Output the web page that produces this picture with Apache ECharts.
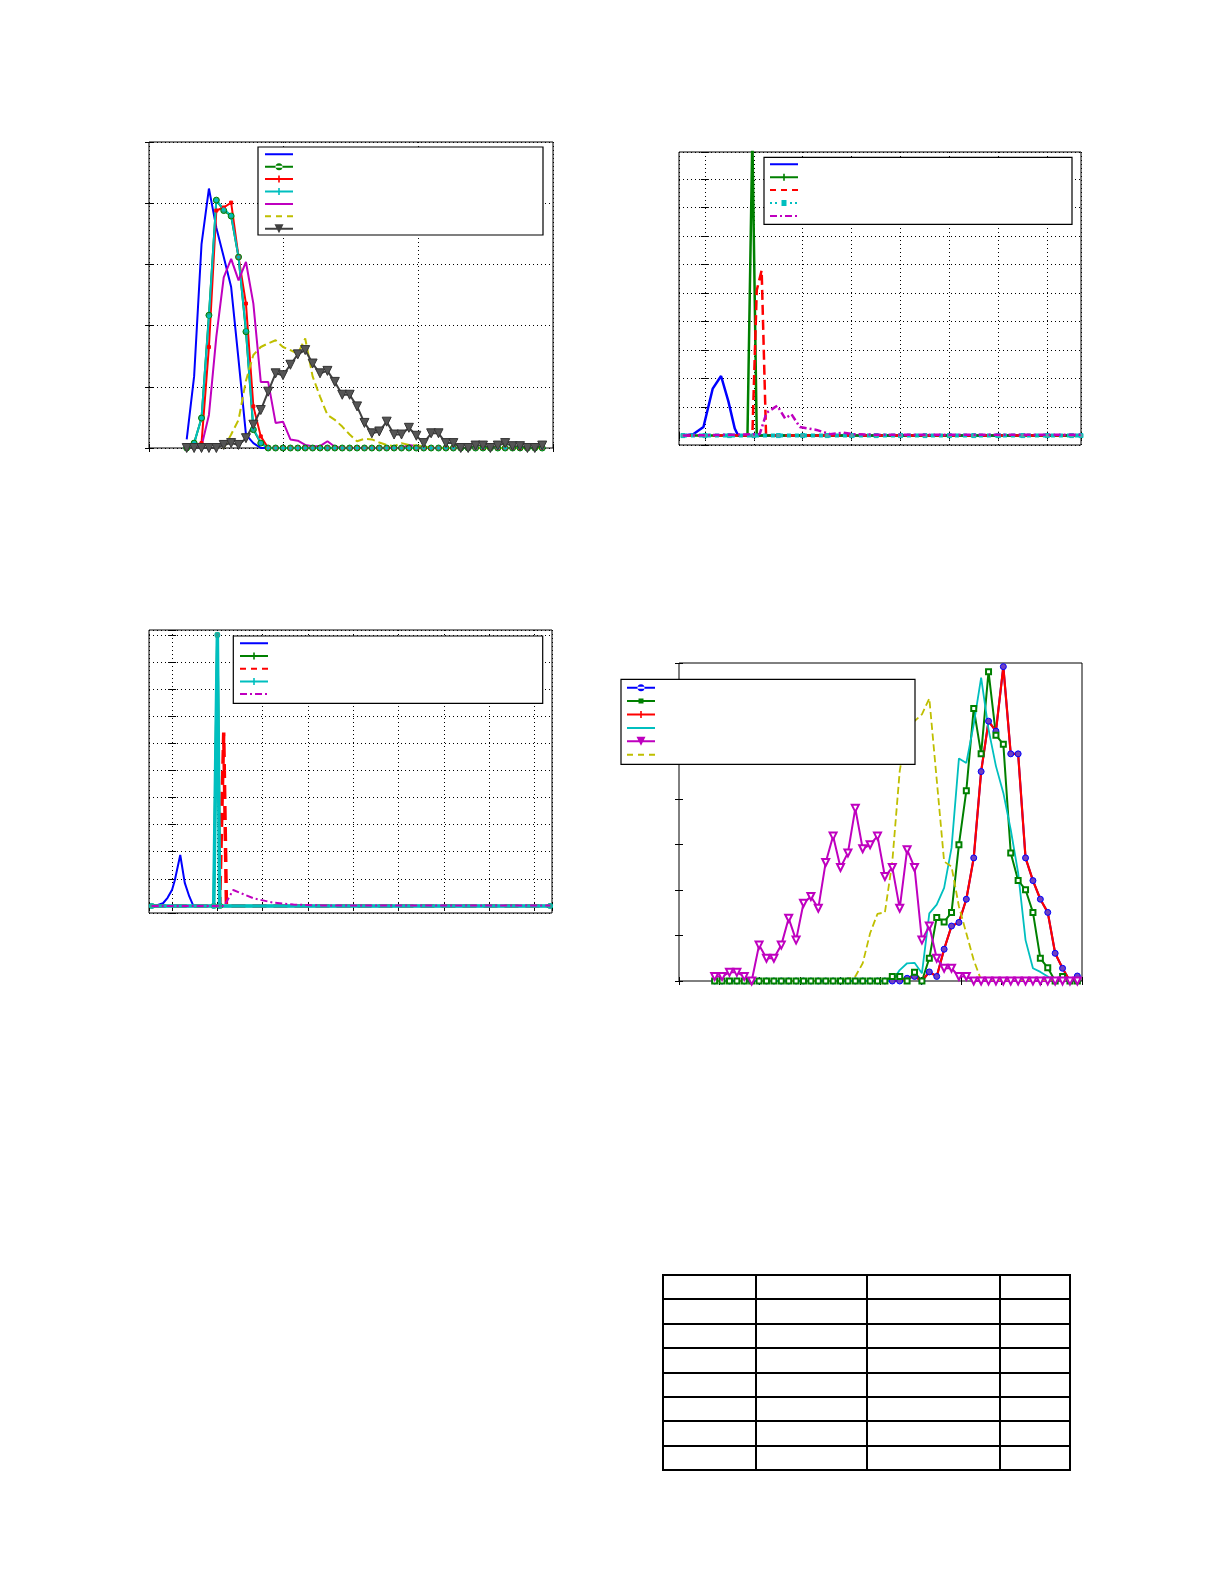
<!DOCTYPE html>
<html><head><meta charset="utf-8">
<script src="https://cdn.jsdelivr.net/npm/echarts@6/dist/echarts.min.js"></script>
<style>
html,body{margin:0;padding:0;background:#fff;}
#c{position:absolute;left:0;top:0;width:1225px;height:1585px;}
table{position:absolute;left:662px;top:1274px;border-collapse:collapse;}
td{border:2px solid #000;height:22.4px;padding:0;}
</style></head><body>
<div id="c"></div>
<table id="t"></table>
<script>
// ---------- Chart 1 (top-left) ----------
const c1Start = 0.28, c1Step = 0.055, c1Count = 49;
const c1Blue    = [0.14,1.17,3.33,4.24,3.6,3.12,2.63,1.44,0.22,0.08,0, 0,0,0,0,0,0,0,0,0,0,0,0,0,0,0,0,0,0,0,0,0,0,0,0,0,0,0,0,0,0,0,0,0,0,0,0,0,0];
const c1Green   = [0,0.08,0.49,2.17,4.05,3.88,3.79,3.12,1.9,0.3,0.08, 0,0,0,0,0,0,0,0,0,0,0,0,0,0,0,0,0,0,0,0,0,0,0,0,0,0,0,0,0,0,0,0,0,0,0,0,0,0];
const c1Red     = [0,0.05,0.08,1.65,3.88,3.93,4.01,3.12,2.36,0.68,0.19, 0,0,0,0,0,0,0,0,0,0,0,0,0,0,0,0,0,0,0,0,0,0,0,0,0,0,0,0,0,0,0,0,0,0,0,0,0,0];
const c1Cyan    = [0,0.08,0.49,2.15,4.05,3.9,3.8,3.12,1.92,0.32,0.08, 0,0,0,0,0,0,0,0,0,0,0,0,0,0,0,0,0,0,0,0,0,0,0,0,0,0,0,0,0,0,0,0,0,0,0,0,0,0];
const c1Magenta = [0,0,0.03,0.54,1.82,2.79,3.09,2.74,3.04,2.36,1.08,1.08,0.41,0.43,0.14,0.12,0.05,0.03,0.03,0.11,0.02, 0,0,0,0,0,0,0,0,0, 0.05,0.03, 0,0,0,0,0,0,0,0,0,0,0,0,0,0,0,0,0];
const c1Yellow  = [0,0,0,0,0,0,0.22,0.46,1.1,1.52,1.65,1.71,1.76,1.65,1.6,1.54,1.79,1.17,0.84,0.54,0.46,0.35,0.22,0.11,0.15,0.14,0.09,0.05,0.03,0.08,0.05,0.04,0.03, 0,0,0,0,0,0,0,0,0,0,0,0,0,0,0,0];
const c1Black   = [0,0,0,0,0,0.05,0.08,0.05,0.16,0.38,0.62,0.92,1.22,1.19,1.36,1.53,1.6,1.38,1.22,1.26,1.08,0.87,0.87,0.68,0.41,0.24,0.27,0.43,0.22,0.22,0.33,0.2,0.08,0.24,0.24,0.08,0.08,0,0,0.04,0.04,0,0.04,0.08,0.03,0.03,0,0,0.04];

// ---------- Chart 2 (top-right) ----------
const c2BlueX = [-0.44,-0.24,-0.03,0.16,0.33,0.48,0.61,0.68,7.69];
const c2BlueY = [0,0.05,0.3,1.65,2.09,1.2,0.25,0,0];
const c2GreenX = [-0.45,0.87,0.97,1.06,7.69];
const c2GreenY = [0,0,10.5,0,0];
const c2RedX = [-0.45,0.97,1.06,1.16,1.25,7.69];
const c2RedY = [0,0,5.1,5.8,0,0];
const c2CyanX = [-0.45,0,0.5,1,1.5,2,2.5,3,3.5,4,4.5,5,5.5,6,6.5,7,7.5,7.69];
const c2CyanY = [0,0,0,0,0,0,0,0,0,0,0,0,0,0,0,0,0,0];
const c2MagX = [-0.45,1.12,1.26,1.48,1.64,1.77,1.94,2.28,2.56,2.83,3.03,3.5,7.69];
const c2MagY = [0,0.05,0.8,1.05,0.6,0.75,0.3,0.2,0.05,0.1,0.05,0.03,0.03];

// ---------- Chart 3 (bottom-left) ----------
const c3BlueX = [-0.38,-0.2,-0.1,0,0.06,0.18,0.28,0.38,0.47,0.9];
const c3BlueY = [0,0.1,0.3,0.6,0.95,1.88,0.85,0.35,0,0];
const c3GreenX = [-0.45,0.92,1.0,1.06,8.35];
const c3GreenY = [0,0,10,0,0];
const c3RedX = [-0.45,1.05,1.14,1.2,8.35];
const c3RedY = [0,0,6.4,0,0];
const c3CyanX = [-0.45,0.92,1.0,1.05,8.35];
const c3CyanY = [0,0,10,0,0];
const c3MagX = [-0.45,1.15,1.35,1.8,2.24,2.68,3.3,8.35];
const c3MagY = [0,0,0.59,0.28,0.12,0.05,0.02,0.02];

// ---------- Chart 4 (bottom-right) ----------
const c4Start = 0.885, c4Step = 0.18367, c4Count = 50;
const c4Blue    = [0,0,0,0,0,0,0,0,0,0,0,0,0,0,0,0,0,0,0,0,0,0,0,0,0, 0,0.06,0.1,0,0.2,0.1,0.7,1.21,1.29,1.8,2.71,4.61,5.72,5.5,6.92,5.0,5.0,2.71,2.21,1.8,1.51,0.61,0.28,0,0.11];
const c4Green   = [0,0,0,0,0,0,0,0,0,0,0,0,0,0,0,0,0,0,0,0,0,0,0,0, 0.1,0.1,0,0.19,0,0.5,1.4,1.3,1.51,3.0,4.19,6.0,5.0,6.81,5.41,5.21,2.82,2.21,2.01,1.51,0.5,0.29,0,0.1,0,0];
const c4Red     = [0,0,0,0,0,0,0,0,0,0,0,0,0,0,0,0,0,0,0,0,0,0,0,0,0, 0,0.06,0.1,0,0.2,0.1,0.7,1.21,1.29,1.8,2.71,4.61,5.72,5.5,6.92,5.0,5.0,2.71,2.21,1.8,1.51,0.61,0.28,0,0.11];
const c4Cyan    = [0,0,0,0,0,0,0,0,0,0,0,0,0,0,0,0,0,0,0,0,0,0,0,0, 0,0.24,0.39,0.4,0.17,1.49,1.68,2.05,2.93,4.9,4.8,5.65,6.68,5.54,4.73,4.14,3.33,2.38,0.9,0.28,0.2,0.1,0,0,0,0];
const c4Magenta = [0.1,0.1,0.19,0.19,0.1,0,0.79,0.5,0.5,0.79,1.38,0.9,1.71,1.86,1.6,2.61,3.19,2.5,2.82,3.8,2.91,3.0,3.19,2.3,2.5,1.6,2.89,2.5,0.9,1.21,0.5,0.28,0.28,0.1,0.1, 0,0,0,0,0,0,0,0,0,0,0,0,0,0,0];
const c4Yellow  = [0,0,0,0,0,0,0,0,0,0,0,0,0,0,0,0,0,0, 0.05,0.1,0.39,1.05,1.48,1.51,2.63,4.62,5.61,5.72,5.87,6.22,4.43,2.63,2.52,1.64,1.05,0.46,0.02, 0.02,0.02,0.02,0.02,0.02,0.02,0.02,0.02,0.02,0.02,0.02,0.02];

// ---------- Table ----------
const tableRows = 8, tableColWidths = [91,109,131,68];

const C = {blue:'#0000ff', green:'#008000', red:'#ff0000', cyan:'#00bfbf', mag:'#bf00bf', yel:'#bfbf00', blk:'#404040'};
const xsFrom = (s, st, n) => Array.from({length:n}, (_, i) => +(s + i*st).toFixed(4));
const zip = (xs, ys) => xs.map((x, i) => [x, ys[i]]);
const c1X = xsFrom(c1Start, c1Step, c1Count);
const c4X = xsFrom(c4Start, c4Step, c4Count);

const grids = [
  {left:149, top:142, width:404, height:306},
  {left:679, top:152, width:402, height:293},
  {left:149, top:630, width:403, height:283},
  {left:679, top:663, width:403, height:318}
].map(g => Object.assign({show:true, borderColor:'#000', borderWidth:1, backgroundColor:'transparent', containLabel:false}, g));

const ranges = [
  {x:[0,3], y:[0,5], split:true},
  {x:[-0.53,7.69], y:[-0.33,9.95], split:true},
  {x:[-0.51,8.39], y:[-0.26,10.18], split:true},
  {x:[0,10], y:[0,7], split:false}
];
const gridLine = {show:true, lineStyle:{color:'#000', type:[1,3], width:1}};
const xAxis = [], yAxis = [];
ranges.forEach((r, i) => {
  const base = (pos, rng, split) => ({
    type:'value', gridIndex:i, position:pos, min:rng[0], max:rng[1], minInterval:1, maxInterval:1,
    axisLine:{show:false}, axisLabel:{show:false},
    axisTick:{show:true, inside:true, length:4, lineStyle:{color:'#000'}},
    splitLine: split ? gridLine : {show:false}
  });
  xAxis.push(base('bottom', r.x, r.split));
  yAxis.push(base('left', r.y, r.split));
});
ranges.forEach((r, i) => {
  const sec = (pos, rng) => ({
    type:'value', gridIndex:i, position:pos, min:rng[0], max:rng[1], minInterval:1, maxInterval:1,
    axisLine:{show:false}, axisLabel:{show:false}, splitLine:{show:false},
    axisTick:{show:true, inside:true, length:4, lineStyle:{color:'#000'}}
  });
  xAxis.push(sec('top', r.x));
  yAxis.push(sec('right', r.y));
});

function S(name, g, data, color, o) {
  o = o || {};
  return {
    name, type:'line', xAxisIndex:g, yAxisIndex:g, data,
    symbol: o.symbol || 'none', symbolSize: o.size || 5, symbolRotate: o.rot || 0,
    showSymbol: !!o.symbol,
    lineStyle:{color, width:o.w || 2, type:o.type || 'solid'},
    itemStyle:{color:o.fill || color, borderColor:o.border || color, borderWidth:1},
    emphasis:{disabled:true}, animation:false, z:o.z || 2
  };
}
const dashDot = [7,3,2,3];
const series = [
  S('a1',0,zip(c1X,c1Blue),C.blue),
  S('a2',0,zip(c1X,c1Green),C.green,{symbol:'circle', size:6, fill:'#20a080', border:C.green}),
  S('a3',0,zip(c1X,c1Red),C.red,{symbol:'rect', size:3}),
  S('a4',0,zip(c1X,c1Cyan),C.cyan,{symbol:'circle', size:3}),
  S('a5',0,zip(c1X,c1Magenta),C.mag),
  S('a6',0,zip(c1X,c1Yellow),C.yel,{type:'dashed'}),
  S('a7',0,zip(c1X,c1Black),C.blk,{symbol:'triangle', rot:180, size:9, fill:'#555', border:'#333'}),

  S('b1',1,zip(c2BlueX,c2BlueY),C.blue,{w:2.5}),
  S('b2',1,zip(c2GreenX,c2GreenY),C.green,{w:2.5}),
  S('b3',1,zip(c2RedX,c2RedY),C.red,{w:2.5, type:'dashed'}),
  S('b4',1,zip(c2CyanX,c2CyanY),C.cyan,{w:4, type:'dotted', symbol:'rect', size:4, fill:'#5aa0a0'}),
  S('b5',1,zip(c2MagX,c2MagY),C.mag,{w:2.5, type:dashDot, z:3}),

  S('c1',2,zip(c3BlueX,c3BlueY),C.blue,{w:2}),
  S('c2',2,zip(c3GreenX,c3GreenY),C.green,{w:2.5, symbol:'rect', size:4}),
  S('c3',2,zip(c3RedX,c3RedY),C.red,{w:3.5, type:'dashed'}),
  S('c4',2,zip(c3CyanX,c3CyanY),C.cyan,{w:3.5, symbol:'circle', size:5, fill:'#30a090'}),
  S('c5',2,zip(c3MagX,c3MagY),C.mag,{w:2, type:dashDot, z:3}),

  S('d1',3,zip(c4X,c4Blue),C.blue,{symbol:'circle', size:6, fill:'#7040c0', border:C.blue}),
  S('d2',3,zip(c4X,c4Green),C.green,{symbol:'emptyRect', size:5}),
  S('d3',3,zip(c4X,c4Red),C.red,{w:2.2}),
  S('d4',3,zip(c4X,c4Cyan),C.cyan,{w:1.8}),
  S('d5',3,zip(c4X,c4Magenta),C.mag,{symbol:'emptyTriangle', rot:180, size:7}),
  S('d6',3,zip(c4X,c4Yellow),C.yel,{w:1.8, type:'dashed'})
];

// legend icons (line sample + optional marker), 28x10 box
const corners = 'M0,0h0.01v0.01h-0.01zM27.99,9.99h0.01v0.01h-0.01z';
const ICON = {
  solid:  'path://' + corners + 'M0,4h28v2h-28z',
  dashed: 'path://' + corners + 'M0,4h6v2h-6zM11,4h6v2h-6zM22,4h6v2h-6z',
  dashdot:'path://' + corners + 'M0,4h7v2h-7zM10,4h2v2h-2zM15,4h7v2h-7zM25,4h2v2h-2z',
  circle: 'path://' + corners + 'M0,4h28v2h-28zM14,1.5a3.5,3.5 0 1,0 0.01,0z',
  rect:   'path://' + corners + 'M0,4h28v2h-28zM11.5,2.5h5v5h-5z',
  plus:   'path://' + corners + 'M0,4h28v2h-28zM13.2,1.5h1.6v7h-1.6z',
  tri:    'path://' + corners + 'M0,4h28v2h-28zM9.5,0.5h9l-4.5,9z',
  dotmark:'path://' + corners + 'M0,4h2v2h-2zM5,4h2v2h-2zM20,4h2v2h-2zM25,4h2v2h-2zM11.5,2h5v6h-5z'
};
const LI = (name, icon, color) => ({name, icon:ICON[icon], itemStyle:{color, borderWidth:0}});
function L(items, left, top, gap) {
  return {data:items, orient:'vertical', left, top, itemWidth:28, itemHeight:10, itemGap:gap,
    padding:0, formatter:() => '', textStyle:{fontSize:8, lineHeight:10}, selectedMode:false, z:100};
}
const legend = [
  L([LI('a1','solid',C.blue), LI('a2','circle',C.green), LI('a3','plus',C.red), LI('a4','plus',C.cyan),
     LI('a5','solid',C.mag), LI('a6','dashed',C.yel), LI('a7','tri',C.blk)], 265, 149.3, 2.4),
  L([LI('b1','solid',C.blue), LI('b2','plus',C.green), LI('b3','dashed',C.red), LI('b4','dotmark',C.cyan),
     LI('b5','dashdot',C.mag)], 770, 159.3, 2.9),
  L([LI('c1','solid',C.blue), LI('c2','plus',C.green), LI('c3','dashed',C.red), LI('c4','plus',C.cyan),
     LI('c5','dashdot',C.mag)], 240, 638.3, 2.7),
  L([LI('d1','circle',C.blue), LI('d2','rect',C.green), LI('d3','plus',C.red), LI('d4','solid',C.cyan),
     LI('d5','tri',C.mag), LI('d6','dashed',C.yel)], 627, 682.7, 3.4)
];
const box = (x1,y1,x2,y2) => ({type:'rect', z:50, shape:{x:x1,y:y1,width:x2-x1,height:y2-y1},
  style:{fill:'#fff', stroke:'#000', lineWidth:1.2}});
const graphic = [box(258,147,543,235), box(764,157.3,1072,224.3), box(233.3,636,542.7,703.3), box(621,679.3,915,764.3)];

const chart = echarts.init(document.getElementById('c'), null, {renderer:'canvas'});
chart.setOption({animation:false, grid:grids, xAxis, yAxis, series, legend, graphic});

// table
const t = document.getElementById('t');
for (let r = 0; r < tableRows; r++) {
  const tr = document.createElement('tr');
  tableColWidths.forEach(w => { const td = document.createElement('td'); td.style.width = w + 'px'; tr.appendChild(td); });
  t.appendChild(tr);
}
</script>
</body></html>
